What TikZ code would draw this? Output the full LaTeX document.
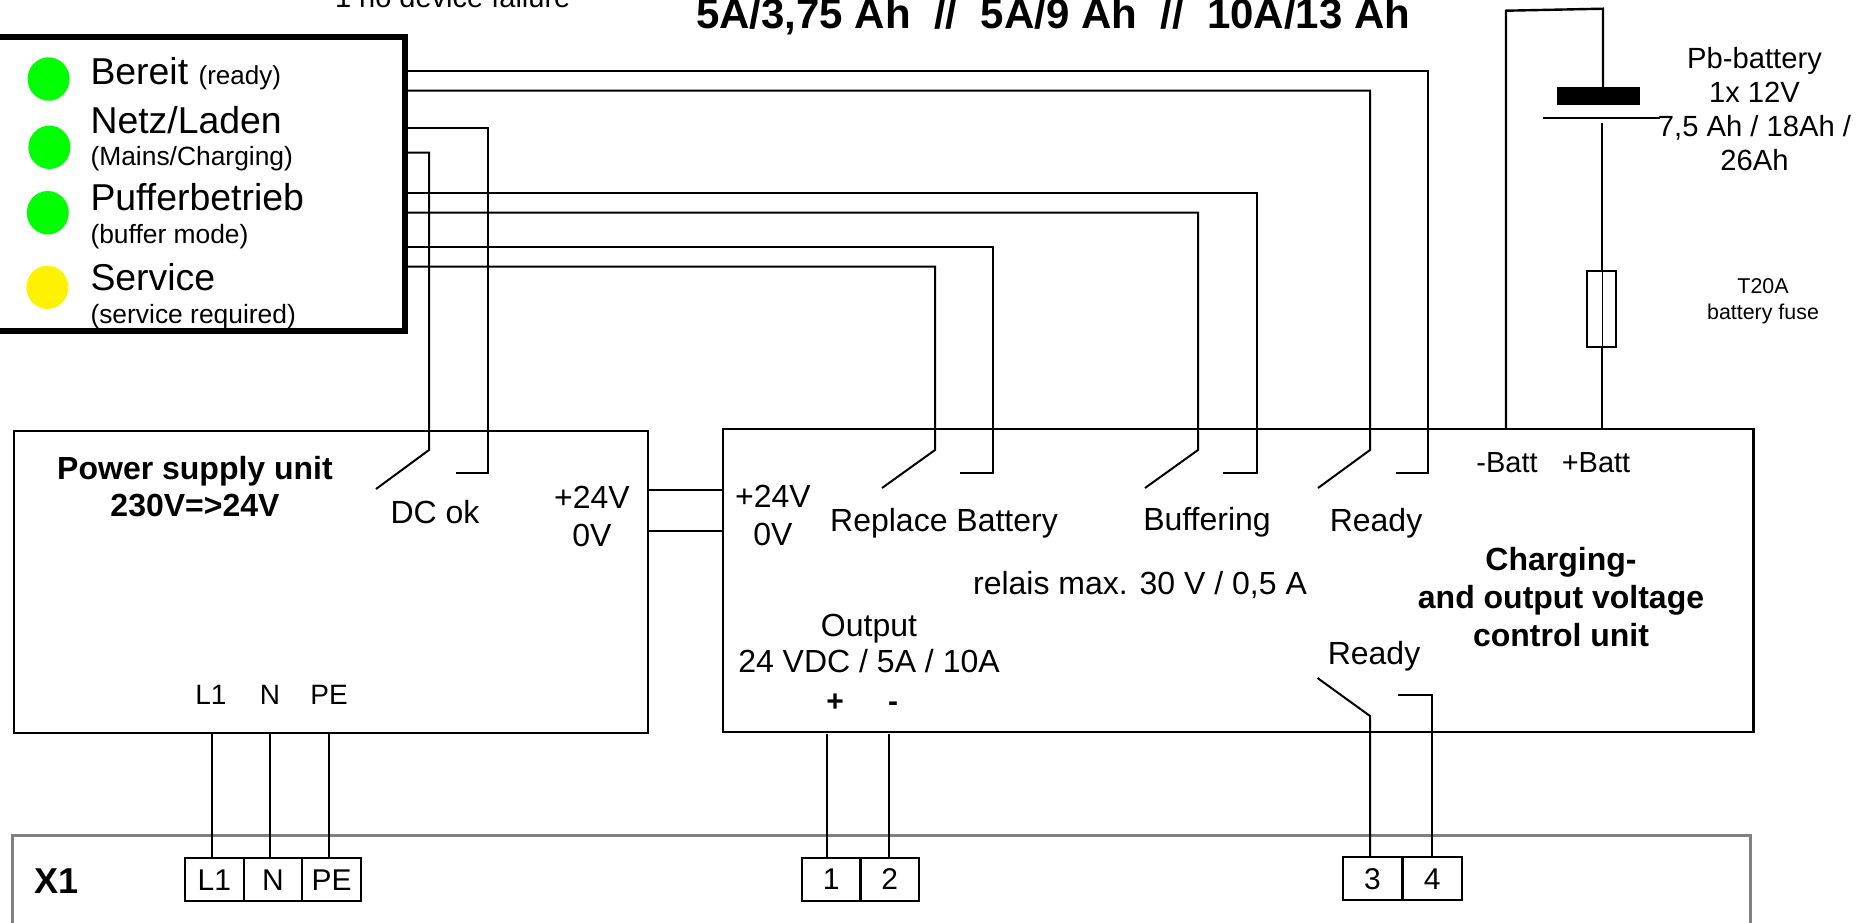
\documentclass[tikz,border=0pt]{standalone}
\usepackage{fontspec}
\setmainfont{Liberation Sans}
\usetikzlibrary{shapes.geometric}
\newcommand{\fs}[1]{\fontsize{#1}{#1}\selectfont}
\tikzset{
  x=0.5pt,y=-0.5pt,
  every node/.style={outer sep=0pt},
  wire/.style={draw=black,line width=1.2pt,line join=miter},
  thinwire/.style={draw=black,line width=1pt,line join=miter},
  unitbox/.style={draw=black,line width=1.1pt},
  term/.style={draw=black,line width=1pt,anchor=north west,inner sep=0pt,minimum width=29.4pt,minimum height=21.7pt,font=\fs{15}},
  lbl/.style={inner sep=0pt,font=\fs{16}},
  txt/.style={inner sep=0pt,anchor=base west},
  led/.style={ellipse,inner sep=0pt,minimum width=21pt,minimum height=21.7pt},
}
\begin{document}
\begin{tikzpicture}
\useasboundingbox (0,0) rectangle (1856,922);
\clip (0,0) rectangle (1856,922);
% status box
\node[draw=black,line width=2.8pt,inner sep=0pt,anchor=north west,minimum height=147pt,minimum width=222.5pt] (status) at (-40,36.7) {};
\node[led,fill=green] (l1) at (48.6,79) {};
\node[led,fill=green] (l2) at (49.4,147.3) {};
\node[led,fill=green] (l3) at (47.8,212.7) {};
\node[led,fill=yellow] (l4) at (47.4,287.3) {};
\node[txt,font=\fs{18.7}] (t1) at (90.5,84) {Bereit {\fs{13}(ready)}};
\node[txt,font=\fs{18.7}] (t2) at (90.5,133) {Netz/Laden};
\node[txt,font=\fs{13.2}] (t3) at (90.5,165.7) {(Mains/Charging)};
\node[txt,font=\fs{18.7}] (t4) at (90.5,210) {Pufferbetrieb};
\node[txt,font=\fs{13.2}] (t5) at (90.5,243) {(buffer mode)};
\node[txt,font=\fs{18.7}] (t6) at (90.5,290) {Service};
\node[txt,font=\fs{13.2}] (t7) at (90.5,323) {(service required)};
% top texts
\node[txt,font=\fs{14.5}] (nofail) at (335,7) {1 no device failure};
\node[txt,font=\bfseries\fs{21}] (title) at (696,28) {5A/3,75 Ah\ \ //\ \ 5A/9 Ah\ \ //\ \ 10A/13 Ah};
% units
\node[unitbox,anchor=north west,inner sep=0pt,minimum width=317pt,minimum height=150.85pt] (psu) at (14,431) {};
\node[unitbox,anchor=north west,inner sep=0pt,minimum width=515.45pt,minimum height=151.35pt] (ctrl) at (722.6,429.3) {};
\node[draw=gray,line width=1.5pt,anchor=north west,inner sep=0pt,minimum width=869pt,minimum height=80pt] (x1) at (12.8,835.3) {};
% relay wires
\coordinate (s1) at (405,70.7); \coordinate (s2) at (405,90.7);
\coordinate (s3) at (405,128.3); \coordinate (s4) at (405,152.7);
\coordinate (s5) at (405,192.7); \coordinate (s6) at (405,212.7);
\coordinate (s7) at (405,247); \coordinate (s8) at (405,266.7);
\draw[thinwire] (s1) -- (1428,70.7) -- (1428,472.7) -- (1396,472.7);
\draw[thinwire] (s2) -- (1370,90.7) -- (1370,450) -- (1318,488);
\draw[thinwire] (s3) -- (488,128.3) -- (488,473) -- (456,473);
\draw[thinwire] (s4) -- (429,152.7) -- (429,450) -- (376,489);
\draw[thinwire] (s5) -- (1257,192.7) -- (1257,472.7) -- (1223,472.7);
\draw[thinwire] (s6) -- (1198,212.7) -- (1198,450) -- (1145,488);
\draw[thinwire] (s7) -- (993,247) -- (993,473) -- (960,473);
\draw[thinwire] (s8) -- (935,266.7) -- (935,450) -- (882,488);
% power link
\draw[thinwire] (psu.east |- 0,490) -- (ctrl.west |- 0,490);
\draw[thinwire] (psu.east |- 0,531) -- (ctrl.west |- 0,531);
% labels in PSU
\node[font=\bfseries\fs{16},inner sep=0pt,align=center] (psut) at (195,487) {Power supply unit\\[2.5pt]230V=>24V};
\node[lbl] (dcok) at (435,512) {DC ok};
\node[lbl] (p24a) at (592,497) {+24V};
\node[lbl] (p0a) at (592,535) {0V};
\node[lbl,font=\fs{14}] (lL1) at (211,695) {L1};
\node[lbl,font=\fs{14}] (lN) at (270,695) {N};
\node[lbl,font=\fs{14}] (lPE) at (329,695) {PE};
% labels in control
\node[lbl] (p24b) at (773,496) {+24V};
\node[lbl] (p0b) at (773,534) {0V};
\node[lbl] (lrb) at (944,523.5) {Replace Battery};
\node[lbl] (lbuf) at (1207,522.5) {Buffering};
\node[lbl] (lrdy) at (1376,523.5) {Ready};
\node[lbl] (lrel) at (1140,585) {relais max. 30 V / 0,5 A};
\node[lbl,align=center] (lout) at (869,643) {Output\\[2pt]24 VDC / 5A / 10A};
\node[lbl,font=\bfseries\fs{15}] (lplus) at (835,703) {+};
\node[lbl,font=\bfseries\fs{15}] (lminus) at (893,707) {-};
\node[lbl] (lrdy2) at (1374,656) {Ready};
\node[lbl,font=\fs{14.5}] (lmb) at (1507,463) {-Batt};
\node[lbl,font=\fs{14.5}] (lpb) at (1596,463) {+Batt};
\node[font=\bfseries\fs{16},inner sep=0pt,align=center] (lcu) at (1561,597) {Charging-\\[2.8pt]and output voltage\\[2.8pt]control unit};
% output wires
\draw[thinwire] (211.7,733) -- (211.7,858);
\draw[thinwire] (270.4,733) -- (270.4,858);
\draw[thinwire] (329,733) -- (329,858);
\draw[thinwire] (827,734) -- (827,858);
\draw[thinwire] (889,734) -- (889,858);
\draw[thinwire] (1317.5,678) -- (1370,716) -- (1370,857);
\draw[thinwire] (1398,695) -- (1431.7,695) -- (1431.7,857);
% terminals
\node[lbl,font=\bfseries\fs{18}] (x1t) at (57,881) {X1};
\node[term] (tL1) at (185,858) {L1};
\node[term] (tN) at (243.6,858) {N};
\node[term] (tPE) at (302.3,858) {PE};
\node[term] (t1x) at (801.7,857.7) {1};
\node[term] (t2x) at (860.3,857.7) {2};
\node[term] (t3x) at (1343,857) {3};
\node[term] (t4x) at (1402.7,857) {4};
% battery
\node[fill=black,inner sep=0pt,minimum width=41.8pt,minimum height=9pt] (plate) at (1598.5,96) {};
\coordinate (thinL) at (1543,118.3); \coordinate (thinR) at (1660,118.3);
\draw[thinwire] (thinL) -- (thinR);
\draw[wire] (1506,429.3) -- (1506,10.7) -- (1603,8.7) -- (1603,87);
\node[draw=black,line width=1.1pt,inner sep=0pt,minimum width=14.7pt,minimum height=38pt] (fuse) at (1601.3,309) {};
\draw[wire] (1602,122.7) -- (fuse.north -| 1602,0);
\draw[line width=0.5pt] (fuse.north -| 1602,0) -- (fuse.south -| 1602,0);
\draw[wire] (fuse.south -| 1602,0) -- (1602,429.3);
\node[inner sep=0pt,font=\fontsize{14.6}{17}\selectfont,align=center] (lbat) at (1754.5,109) {Pb-battery\\1x 12V\\7,5 Ah / 18Ah /\\26Ah};
\node[inner sep=0pt,font=\fontsize{10.7}{12.8}\selectfont,align=center] (lfuse) at (1763,301) {T20A\\battery fuse};
\end{tikzpicture}
\end{document}
